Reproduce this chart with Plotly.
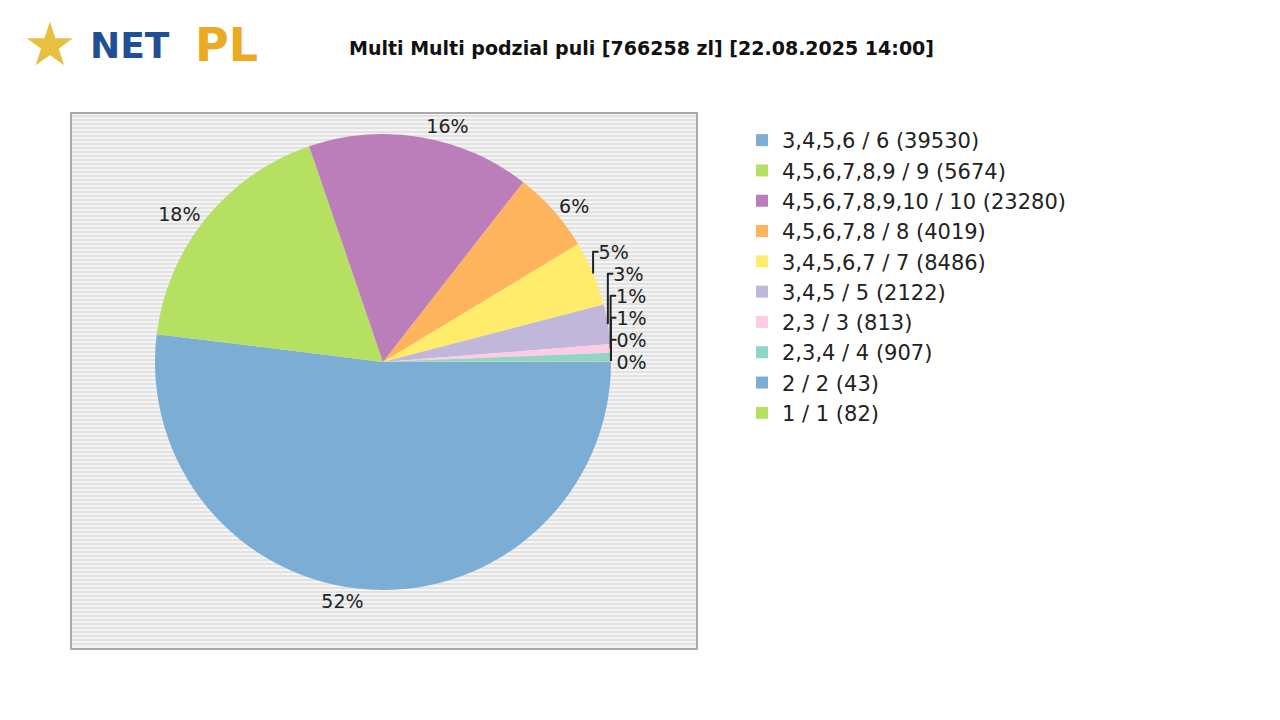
import plotly.graph_objects as go

labels = ["3,4,5,6 / 6 (39530)", "4,5,6,7,8,9 / 9 (5674)", "4,5,6,7,8,9,10 / 10 (23280)",
          "4,5,6,7,8 / 8 (4019)", "3,4,5,6,7 / 7 (8486)", "3,4,5 / 5 (2122)",
          "2,3 / 3 (813)", "2,3,4 / 4 (907)", "2 / 2 (43)", "1 / 1 (82)"]
shares = [51.95, 17.8, 15.8, 5.8, 4.6, 2.8, 0.6, 0.55, 0.05, 0.05]
colors = ["#7caed5", "#b5e061", "#bc7dbb", "#fdb45c", "#ffec6a", "#c0b7da",
          "#fdcce4", "#8fd6c8", "#7caed5", "#b5e061"]

W, H = 1280, 720
OFF = 8
def px(x): return (x - OFF) / W
def py(y): return 1 - (y - OFF) / H

shapes = [dict(type="rect", xref="paper", yref="paper", x0=px(71), x1=px(697), y0=py(649), y1=py(113),
               fillcolor="#f4f4f4", line=dict(color="#aaaaaa", width=2), layer="below")]
y = 116
while y < 648:
    shapes.append(dict(type="line", xref="paper", yref="paper", x0=px(72), x1=px(696), y0=py(y), y1=py(y),
                       line=dict(color="#dcdcdc", width=1.5), layer="below"))
    y += 4

fig = go.Figure(go.Pie(
    labels=labels, values=shares, sort=False, direction="clockwise", rotation=90,
    marker=dict(colors=colors, line=dict(width=0)),
    texttemplate="%{percent:.0%}", textposition="outside",
    textfont=dict(family="DejaVu Sans", size=19, color="#222"),
    domain=dict(x=[px(150), px(616)], y=[py(590), py(134)]),
    showlegend=True,
))
def ann(text, x, y, size, color):
    return dict(text=text, x=px(x), y=py(y), xref="paper", yref="paper", showarrow=False,
                xanchor="center", yanchor="middle", font=dict(size=size, color=color))
fig.update_layout(
    width=W, height=H, margin=dict(l=0, r=0, t=0, b=0),
    paper_bgcolor="white", plot_bgcolor="white", shapes=shapes,
    font=dict(family="DejaVu Sans"),
    legend=dict(x=px(742), y=py(120), xanchor="left", yanchor="top",
                font=dict(size=21, color="#222"), itemwidth=30),
    annotations=[
        ann("<b>Multi Multi podzial puli [766258 zl] [22.08.2025 14:00]</b>", 641, 48, 19, "#111"),
        ann("<b>NET</b>", 130, 45, 36, "#1f4f95"),
        ann("<b>PL</b>", 226, 45, 46, "#eaaa22"),
        ann("★", 50, 44, 60, "#e8c040"),
    ],
)
fig.write_html("out.html")
